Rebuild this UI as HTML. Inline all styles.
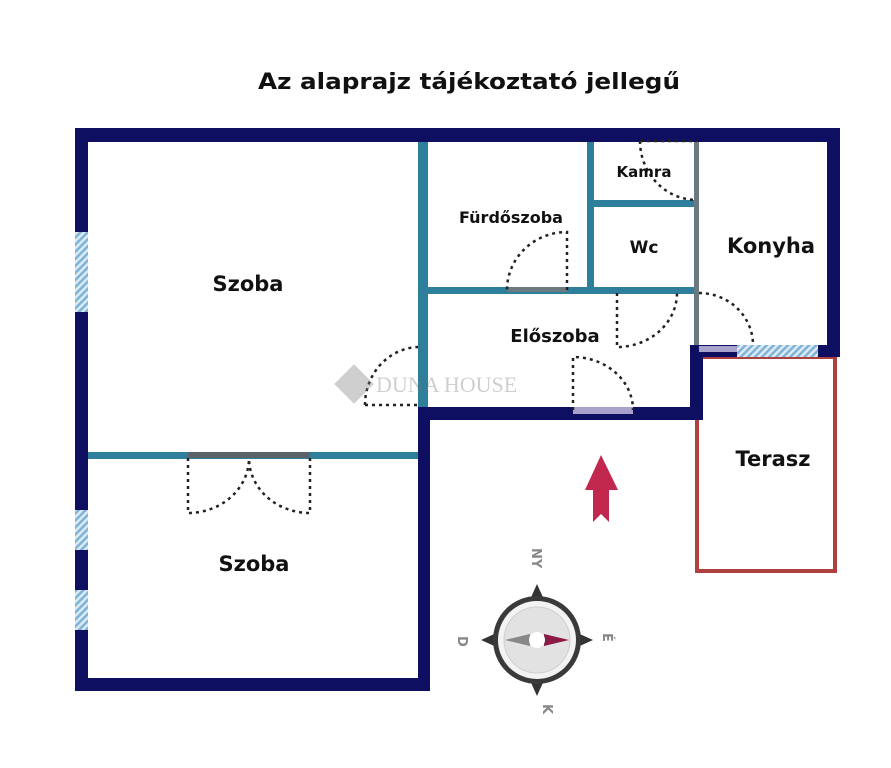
<!DOCTYPE html>
<html><head><meta charset="utf-8"><style>
html,body{margin:0;padding:0;background:#fff;}
svg{display:block;}
text{font-family:"DejaVu Sans","Liberation Sans",sans-serif;font-weight:bold;fill:#111;}
</style></head><body>
<svg width="891" height="768" viewBox="0 0 891 768" xmlns="http://www.w3.org/2000/svg">
<defs>
<pattern id="h" width="5" height="5" patternUnits="userSpaceOnUse" patternTransform="rotate(45)">
<rect width="5" height="5" fill="#dbeaf5"/><rect width="2.5" height="5" fill="#7fb3d8"/>
</pattern>
</defs>
<text x="469" y="89" font-size="22" text-anchor="middle" textLength="422" lengthAdjust="spacingAndGlyphs">Az alaprajz tájékoztató jellegű</text>

<!-- terasz -->
<rect x="697" y="357" width="138" height="214" fill="none" stroke="#b04040" stroke-width="4"/>

<!-- inner teal walls -->
<g fill="#2e7f9c">
<rect x="418" y="142" width="10" height="268"/>
<rect x="425" y="287" width="272" height="7"/>
<rect x="587" y="142" width="7" height="148"/>
<rect x="594" y="200" width="103" height="7"/>
<rect x="88" y="452" width="330" height="7"/>
</g>
<rect x="694" y="142" width="5" height="205" fill="#6a7a80"/>
<rect x="188" y="452" width="122" height="6" fill="#5a6468"/>

<!-- outer navy walls -->
<g fill="#0f0f62">
<rect x="75" y="128" width="765" height="14"/>
<rect x="75" y="128" width="13" height="562"/>
<rect x="75" y="678" width="355" height="13"/>
<rect x="418" y="408" width="12" height="283"/>
<rect x="418" y="407" width="285" height="13"/>
<rect x="690" y="345" width="13" height="75"/>
<rect x="690" y="345" width="150" height="12"/>
<rect x="827" y="128" width="13" height="229"/>
</g>
<!-- windows -->
<rect x="75" y="232" width="13" height="80" fill="url(#h)"/>
<rect x="75" y="510" width="13" height="40" fill="url(#h)"/>
<rect x="75" y="590" width="13" height="40" fill="url(#h)"/>
<rect x="737" y="345" width="81" height="12" fill="url(#h)"/>
<rect x="699" y="346" width="38" height="6" fill="#a9a3cc"/>
<rect x="573" y="407" width="60" height="7" fill="#a9a3cc"/>
<rect x="507" y="287" width="60" height="5" fill="#6a7a80"/>

<!-- doors -->
<g fill="none" stroke="#222" stroke-width="2.5" stroke-dasharray="3,4">
<path d="M365 405 L418 405 M365 405 A55 58 0 0 1 418 347"/>
<path d="M567 290 L567 232 A60 58 0 0 0 507 290"/>
<path d="M617 293 L617 347 A60 54 0 0 0 677 293"/>
<path d="M699 293 A54 52 0 0 1 753 345"/>
<path d="M640 141 L697 141 M640 141 A57 59 0 0 0 697 200"/>
<path d="M573 410 L573 357 A60 53 0 0 1 633 410"/>
<path d="M188 458 L188 513 A61 55 0 0 0 249 458 M310 458 L310 513 A61 55 0 0 1 249 458"/>
</g>

<!-- labels -->
<text x="248" y="291" font-size="21" text-anchor="middle">Szoba</text>
<text x="254" y="571" font-size="21" text-anchor="middle">Szoba</text>
<text x="511" y="223" font-size="16" text-anchor="middle">Fürdőszoba</text>
<text x="644" y="177" font-size="15" text-anchor="middle">Kamra</text>
<text x="644" y="253" font-size="17" text-anchor="middle">Wc</text>
<text x="771" y="253" font-size="21" text-anchor="middle">Konyha</text>
<text x="555" y="342" font-size="18" text-anchor="middle">Előszoba</text>
<text x="773" y="466" font-size="21" text-anchor="middle">Terasz</text>

<!-- watermark -->
<g opacity="0.35">
<rect x="340" y="370" width="28" height="28" fill="#777" transform="rotate(45 354 384)"/>
<text x="376" y="392" font-size="22" font-family="Liberation Serif,serif" style="font-family:'Liberation Serif',serif;font-weight:normal;fill:#777">DUNA HOUSE</text>
</g>

<!-- arrow -->
<path d="M601 455 L618 490 L609 490 L609 522 L601 514 L593 522 L593 490 L585 490 Z" fill="#c2284e"/>

<!-- compass -->
<g>
<path d="M537 584 L546 604 L537 600 L528 604 Z M537 696 L546 676 L537 680 L528 676 Z M481 640 L501 631 L497 640 L501 649 Z M593 640 L573 631 L577 640 L573 649 Z" fill="#333"/>
<circle cx="537" cy="640" r="44" fill="#3a3a3a"/>
<circle cx="537" cy="640" r="39" fill="#f3f3f3"/>
<circle cx="537" cy="640" r="33" fill="#e2e2e2" stroke="#cfcfcf" stroke-width="1"/>
<path d="M505 640 L530 634 L530 646 Z" fill="#888"/>
<path d="M569 640 L544 634 L544 646 Z" fill="#8a1a4a"/>
<circle cx="537" cy="640" r="8" fill="#fff"/>
<text x="0" y="0" font-size="13" fill="#888" style="fill:#888" transform="translate(532 548) rotate(90)">NY</text>
<text x="0" y="0" font-size="13" style="fill:#888" transform="translate(543 704) rotate(90)">K</text>
<text x="0" y="0" font-size="13" style="fill:#888" transform="translate(458 636) rotate(90)">D</text>
<text x="0" y="0" font-size="13" style="fill:#888" transform="translate(603 633) rotate(90)">É</text>
</g>
</svg>
</body></html>
